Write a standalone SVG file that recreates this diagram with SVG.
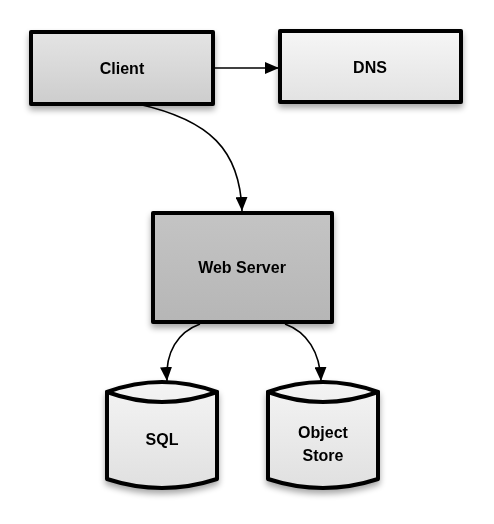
<svg xmlns="http://www.w3.org/2000/svg" width="494" height="524" viewBox="0 0 494 524">
<defs>
<linearGradient id="gClient" x1="0" y1="0" x2="0" y2="1"><stop offset="0" stop-color="#e4e4e4"/><stop offset="1" stop-color="#cdcdcd"/></linearGradient>
<linearGradient id="gDns" x1="0" y1="0" x2="0" y2="1"><stop offset="0" stop-color="#f6f6f6"/><stop offset="1" stop-color="#e2e2e2"/></linearGradient>
<linearGradient id="gWeb" x1="0" y1="0" x2="0" y2="1"><stop offset="0" stop-color="#c4c4c4"/><stop offset="1" stop-color="#b6b6b6"/></linearGradient>
<linearGradient id="gCyl" x1="0" y1="0" x2="0" y2="1"><stop offset="0" stop-color="#f4f4f4"/><stop offset="1" stop-color="#e0e0e0"/></linearGradient>
<filter id="sh" x="-10%" y="-10%" width="130%" height="140%"><feGaussianBlur in="SourceAlpha" stdDeviation="3"/><feOffset dx="0" dy="4"/><feComponentTransfer><feFuncA type="linear" slope="0.35"/></feComponentTransfer><feMerge><feMergeNode/><feMergeNode in="SourceGraphic"/></feMerge></filter>
<marker id="arr" viewBox="0 0 14 12" refX="14" refY="6" markerWidth="14" markerHeight="12" markerUnits="userSpaceOnUse" orient="auto"><path d="M0,0 L14,6 L0,12 z" fill="#000"/></marker>
</defs>
<style>
.box{stroke:#000;stroke-width:4;stroke-linejoin:round;stroke-linecap:round}
.lbl{font-family:"Liberation Sans",Arial,sans-serif;font-weight:bold;font-size:16px;fill:#000;text-anchor:middle}
.edge{fill:none;stroke:#000;stroke-width:1.6}
</style>
<g id="client" filter="url(#sh)">
<rect class="box" x="31" y="32" width="182" height="72" fill="url(#gClient)"/>
<text class="lbl" x="122" y="74">Client</text>
</g>
<g id="dns" filter="url(#sh)">
<rect class="box" x="280" y="31" width="181" height="71" fill="url(#gDns)"/>
<text class="lbl" x="370" y="73">DNS</text>
</g>
<g id="webserver" filter="url(#sh)">
<rect class="box" x="153" y="213" width="179" height="109" fill="url(#gWeb)"/>
<text class="lbl" x="242" y="273">Web Server</text>
</g>
<g id="sql" filter="url(#sh)">
<path class="box" d="M107,392 Q162,372 217,392 L217,479 Q162,497 107,479 Z" fill="url(#gCyl)"/>
<path class="box" d="M107,392 Q162,412 217,392" fill="none"/>
<text class="lbl" x="162" y="445">SQL</text>
</g>
<g id="objectstore" filter="url(#sh)">
<path class="box" d="M268,392 Q323,372 378,392 L378,479 Q323,497 268,479 Z" fill="url(#gCyl)"/>
<path class="box" d="M268,392 Q323,412 378,392" fill="none"/>
<text class="lbl" x="323" y="438">Object</text>
<text class="lbl" x="323" y="461">Store</text>
</g>
<g id="connectors">
<path class="edge" d="M215,68 L279,68" marker-end="url(#arr)"/>
<path class="edge" d="M138,104 C210,120 240,150 242,211" marker-end="url(#arr)"/>
<path class="edge" d="M200,324 C178,332 165,352 167,381" marker-end="url(#arr)"/>
<path class="edge" d="M285,324 C307,332 320,352 321,381" marker-end="url(#arr)"/>
</g>
</svg>
